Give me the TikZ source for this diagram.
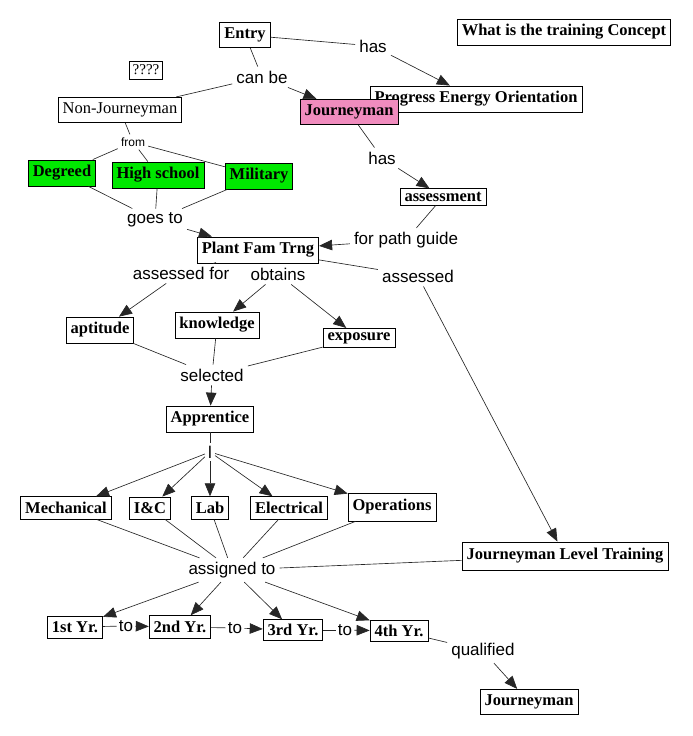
\documentclass[tikz,border=0pt]{standalone}
\usepackage{fontspec}
\setmainfont{Liberation Serif}
\setsansfont{Liberation Sans}
\usetikzlibrary{arrows.meta}
\definecolor{cgreen}{RGB}{0,232,0}
\definecolor{cpink}{RGB}{240,140,190}
\tikzset{
  concept/.style={draw, line width=0.8pt, fill=white, inner xsep=4.5pt, inner ysep=5.5pt,
    font=\bfseries\fontsize{16.5}{18}\selectfont},
  link/.style={inner sep=4pt, font=\sffamily\fontsize{17}{19}\selectfont},
  lk/.style={line width=0.65pt, black!85},
  arr/.style={lk, -{Triangle[length=13pt,width=10.5pt]}},
}
\begin{document}
\begin{tikzpicture}[x=1pt,y=-1pt]
\useasboundingbox (0,0) rectangle (693,736);
\node[concept] (entry) at (245,35){Entry};
\node[concept] (wtc) at (564,32){What is the training Concept};
\node[concept, font=\fontsize{15}{16}\selectfont, inner ysep=4pt, inner xsep=3.5pt] (qm) at (146,70){????};
\node[link] (has1) at (373,46){has};
\node[link] (canbe) at (262,77){can be};
\node[concept] (peo) at (476,99){Progress Energy Orientation};
\node[concept, font=\fontsize{16.5}{18}\selectfont] (nonj) at (120,110){Non-Journeyman};
\node[concept, fill=cpink] (jman) at (349,112){Journeyman};
\draw[lk] (entry) -- (has1);
\draw[arr] (has1) -- (peo);
\draw[lk] (entry) -- (canbe);
\draw[arr] (canbe) -- (jman);
\draw[lk] (canbe) -- (nonj);
\node[link, font=\sffamily\fontsize{12}{14}\selectfont, inner sep=3pt] (from) at (133,142){from};
\node[concept, fill=cgreen] (deg) at (62,173){Degreed};
\node[concept, fill=cgreen] (hs) at (158,175){High school};
\node[concept, fill=cgreen] (mil) at (259,176){Military};
\draw[lk] (nonj) -- (from);
\draw[lk] (from) -- (deg);
\draw[lk] (from) -- (hs);
\draw[lk] (from) -- (mil);
\node[link] (has2) at (382,158){has};
\node[concept, inner ysep=3.5pt] (assess) at (443,197){assessment};
\draw[lk] (jman) -- (has2);
\draw[arr] (has2) -- (assess);
\node[link] (goesto) at (155,220){goes to};
\node[link] (pgui) at (406,240){for path guide};
\node[concept] (pft) at (258,250){Plant Fam Trng};
\draw[lk] (deg) -- (goesto);
\draw[lk] (hs) -- (goesto);
\draw[lk] (mil) -- (goesto);
\draw[arr] (goesto) -- (pft);
\draw[lk] (assess) -- (pgui);
\draw[arr] (pgui) -- (pft);
\node[link] (assfor) at (181,273){assessed for};
\node[link] (obt) at (278,274){obtains};
\node[link] (assd) at (418,276){assessed};
\node[concept] (apt) at (100,330){aptitude};
\node[concept] (know) at (217,325){knowledge};
\node[concept, inner ysep=4pt] (expo) at (359,338){exposure};
\draw[lk] (pft) -- (assfor);
\draw[arr] (assfor) -- (apt);
\draw[lk] (pft) -- (obt);
\draw[arr] (obt) -- (know);
\draw[arr] (obt) -- (expo);
\draw[lk] (pft) -- (assd);
\node[link] (sel) at (212,375){selected};
\node[concept] (appr) at (210,419){Apprentice};
\draw[lk] (apt) -- (sel);
\draw[lk] (know) -- (sel);
\draw[lk] (expo) -- (sel);
\draw[arr] (sel) -- (appr);
\node[link, inner sep=3pt] (ll) at (210,452){l};
\node[concept] (mech) at (66,508){Mechanical};
\node[concept] (icc) at (150,508){I\&C};
\node[concept] (lab) at (210,508){Lab};
\node[concept] (elec) at (289,508){Electrical};
\node[concept, inner ysep=6.5pt] (ops) at (392,507){Operations};
\draw[lk] (appr) -- (ll);
\foreach \n in {mech,icc,lab,elec,ops}
  \draw[arr] (ll) -- (\n);
\node[link] (assto) at (232,570){assigned to};
\node[concept, inner ysep=6.5pt] (jlt) at (565,556){Journeyman Level Training};
\draw[arr] (assd) -- (jlt);
\foreach \n in {mech,icc,lab,elec,ops,jlt}
  \draw[lk] (\n) -- (assto);
\node[concept] (y1) at (75,627){1st Yr.};
\node[link, inner xsep=2pt] (to1) at (126,626){to};
\node[concept] (y2) at (180,627){2nd Yr.};
\node[link, inner xsep=2pt] (to2) at (235,628){to};
\node[concept, inner ysep=4.5pt] (y3) at (293,630){3rd Yr.};
\node[link, inner xsep=2pt] (to3) at (345,630){to};
\node[concept, inner ysep=4.5pt] (y4) at (399,631){4th Yr.};
\foreach \n in {y1,y2,y3,y4}
  \draw[arr] (assto) -- (\n);
\draw[lk] (y1) -- (to1);
\draw[arr] (to1) -- (y2);
\draw[lk] (y2) -- (to2);
\draw[arr] (to2) -- (y3);
\draw[lk] (y3) -- (to3);
\draw[arr] (to3) -- (y4);
\node[link] (qual) at (483,651){qualified};
\node[concept] (jman2) at (529,702){Journeyman};
\draw[lk] (y4) -- (qual);
\draw[arr] (qual) -- (jman2);
\end{tikzpicture}
\end{document}
